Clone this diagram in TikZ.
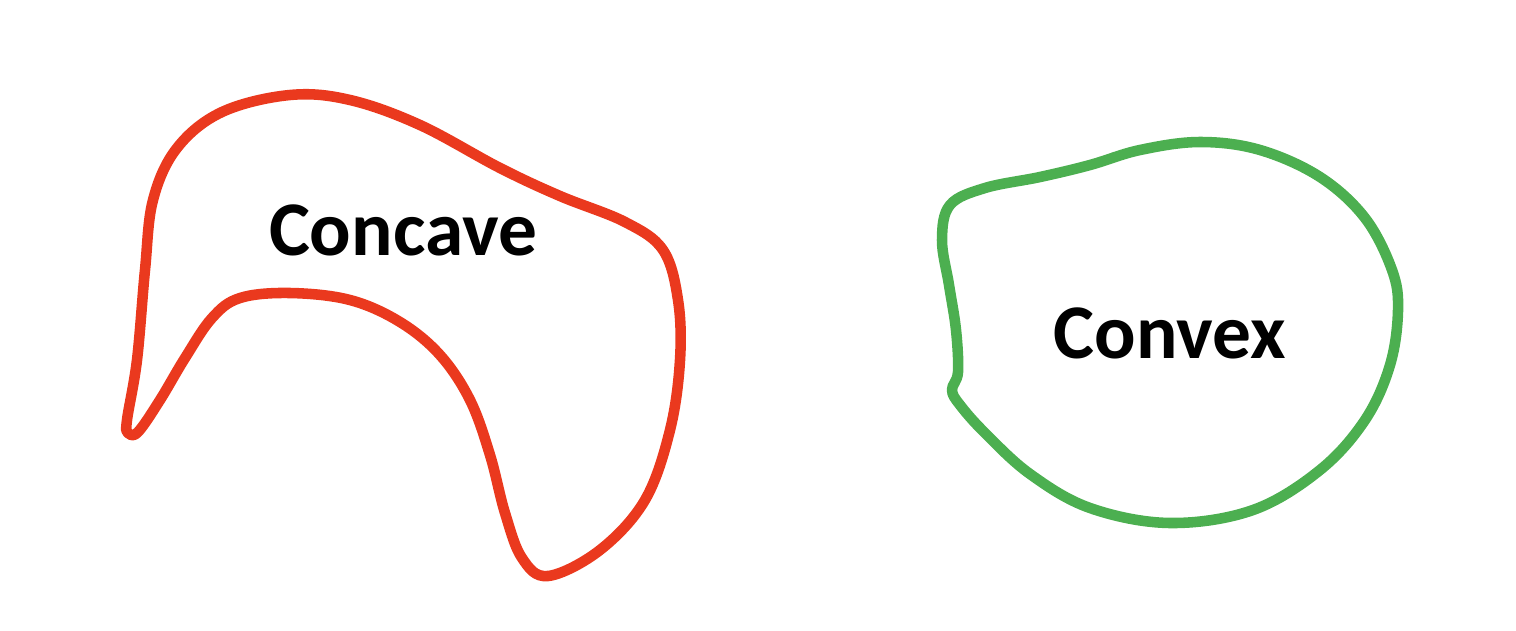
\documentclass[tikz,border=0pt]{standalone}
\usepackage{fontspec}
\setmainfont{Carlito}
\usepackage{tikz}
\definecolor{redC}{RGB}{234,57,30}
\definecolor{greenC}{RGB}{76,175,80}
\tikzset{
  blob/.style={draw=#1, line width=3pt, line join=round, line cap=round},
  lbl/.style={font=\fontsize{22}{22}\selectfont\bfseries, text=black},
}
\begin{document}
\begin{tikzpicture}[x=0.01cm, y=-0.01cm]
\useasboundingbox (0,0) rectangle (1516,630);
% concave outline
\draw[blob=redC] plot[smooth cycle, tension=0.6] coordinates {
  (127,420) (137,360) (145,270) (153,200) (177,148) (222,112) (290,95) (350,100)
  (420,125) (500,168) (560,196) (625,222) (663,250) (678,300) (680,360) (670,430)
  (645,500) (600,550) (548,576) (522,558) (505,513) (490,455) (470,400) (440,355)
  (400,322) (350,300) (290,293) (240,298) (212,318) (185,358) (160,400) (138,432)
  (128,433)};
\node[lbl] (concave) at (403,230) {Concave};
% convex outline
\draw[blob=greenC] plot[smooth cycle, tension=0.6] coordinates {
  (952,390) (958,372) (956,330) (949,285) (942,240) (950,205) (985,188) (1040,177)
  (1090,165) (1140,150) (1200,142) (1260,150) (1320,177) (1365,218) (1392,270)
  (1398,310) (1390,365) (1365,420) (1320,470) (1253,510) (1170,523) (1090,508)
  (1030,474) (985,433) (960,405)};
\node[lbl] (convex) at (1170,333) {Convex};
\end{tikzpicture}
\end{document}
